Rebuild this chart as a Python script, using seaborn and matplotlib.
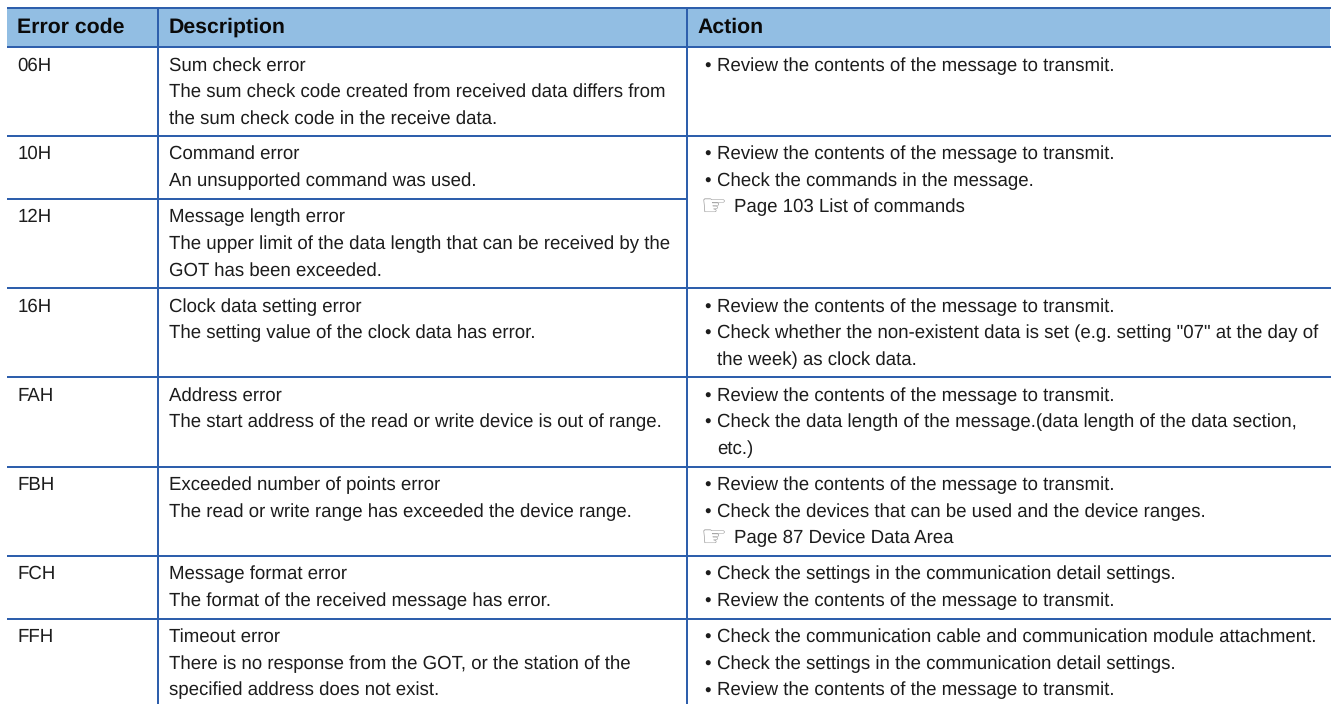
import matplotlib
matplotlib.use("Agg")
import matplotlib.pyplot as plt
from matplotlib.colors import ListedColormap
import numpy as np
import seaborn as sns

headers = ["Error code", "Description", "Action"]
codes = ["06H", "10H", "12H", "16H", "FAH", "FBH", "FCH", "FFH"]
descriptions = [
    ["Sum check error", "The sum check code created from received data differs from", "the sum check code in the receive data."],
    ["Command error", "An unsupported command was used."],
    ["Message length error", "The upper limit of the data length that can be received by the", "GOT has been exceeded."],
    ["Clock data setting error", "The setting value of the clock data has error."],
    ["Address error", "The start address of the read or write device is out of range."],
    ["Exceeded number of points error", "The read or write range has exceeded the device range."],
    ["Message format error", "The format of the received message has error."],
    ["Timeout error", "There is no response from the GOT, or the station of the", "specified address does not exist."],
]
# (kind, text): b = bullet, c = continuation, r = page reference
actions = [
    [("b", "Review the contents of the message to transmit.")],
    [("b", "Review the contents of the message to transmit."), ("b", "Check the commands in the message."), ("r", "Page 103 List of commands")],
    [],
    [("b", "Review the contents of the message to transmit."),
     ("b", "Check whether the non-existent data is set (e.g. setting \"07\" at the day of"),
     ("c", "the week) as clock data.")],
    [("b", "Review the contents of the message to transmit."),
     ("b", "Check the data length of the message.(data length of the data section,"),
     ("c", "etc.)")],
    [("b", "Review the contents of the message to transmit."),
     ("b", "Check the devices that can be used and the device ranges."),
     ("r", "Page 87 Device Data Area")],
    [("b", "Check the settings in the communication detail settings."),
     ("b", "Review the contents of the message to transmit.")],
    [("b", "Check the communication cable and communication module attachment."),
     ("b", "Check the settings in the communication detail settings."),
     ("b", "Review the contents of the message to transmit.")],
]
row_edges = [47, 135.7, 198.7, 288, 377, 466.7, 555.7, 618.7, 704]
header_top = 8
col_edges = [7, 158, 687, 1331]

W, H = 1331, 704
LINE = "#2E5FAC"
FILL = "#92BEE3"
INK = "#1C1C1C"
FS = 13.4
LEAD = 26.6

sns.set_theme(style="white")
plt.rcParams["font.family"] = ["Liberation Sans", "DejaVu Sans"]
plt.rcParams["text.hinting"] = "none"
plt.rcParams["text.hinting_factor"] = 8

fig = plt.figure(figsize=(W / 100, H / 100), dpi=100, facecolor="white")
hx = fig.add_axes([col_edges[0] / W, 1 - row_edges[0] / H, (1330 - col_edges[0]) / W, (row_edges[0] - header_top) / H])
sns.heatmap(np.ones((1, 3)), ax=hx, cmap=ListedColormap([FILL]), cbar=False, xticklabels=False, yticklabels=False)

ax = fig.add_axes([0, 0, 1, 1], facecolor="none")
ax.set_xlim(0, W)
ax.set_ylim(H, 0)
ax.axis("off")

lw = 2 * 72 / 100
ax.hlines([header_top, row_edges[0]], col_edges[0], col_edges[-1], color=LINE, lw=lw)
for i, y in enumerate(row_edges[1:-1]):
    right = col_edges[2] if codes[i] == "10H" else col_edges[3]
    ax.hlines(y, col_edges[0], right, color=LINE, lw=lw)
ax.vlines(col_edges[1:3], header_top, H, color=LINE, lw=lw)

tx = [17.4, 169, 697.5]
for x, h in zip(tx, headers):
    ax.text(x, 32.7, h, fontsize=15.3, fontweight="bold", color="#0A0A0A", va="baseline", ha="left")

for i, code in enumerate(codes):
    base = row_edges[i] + 23.6
    ax.text(tx[0], base, code, fontsize=FS, color=INK, va="baseline")
    for j, line in enumerate(descriptions[i]):
        ax.text(tx[1], base + j * LEAD, line, fontsize=FS, color=INK, va="baseline")
    for j, (kind, line) in enumerate(actions[i]):
        y = base + j * LEAD
        if kind == "b":
            ax.text(704, y + 0.8, "\u2022", fontsize=FS, color=INK, va="baseline")
            ax.text(716.8, y, line, fontsize=FS, color=INK, va="baseline")
        elif kind == "c":
            ax.text(716.8, y, line, fontsize=FS, color=INK, va="baseline")
        else:
            ax.text(700, y + 2.5, "\u261E", fontsize=21, color="#8A8A8A", va="baseline", family="DejaVu Sans")
            ax.text(733.8, y, line, fontsize=FS, color=INK, va="baseline")

fig.savefig("out.png", dpi=100)
